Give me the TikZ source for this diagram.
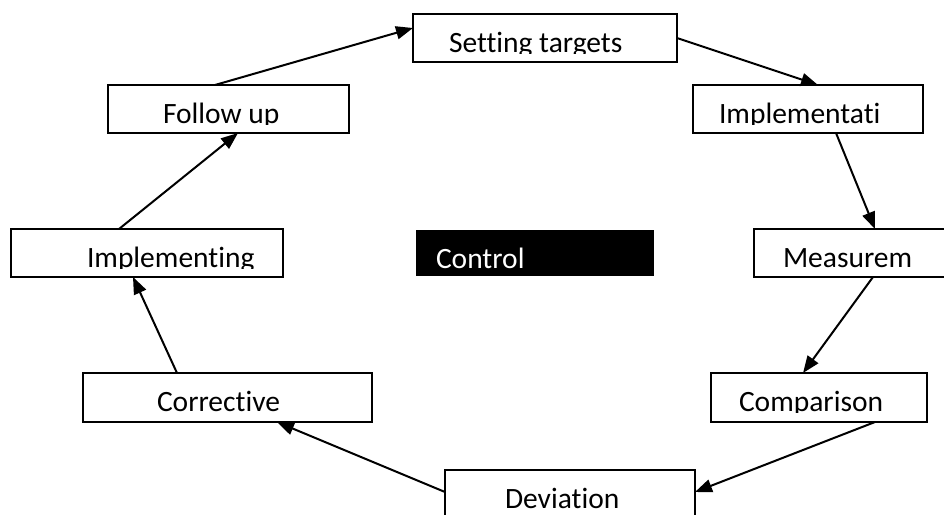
\documentclass[tikz,border=0pt]{standalone}
\usepackage{fontspec}
\setmainfont[Ligatures=NoCommon]{Carlito}
\usetikzlibrary{arrows.meta}
\newcommand\boxfont{\fontsize{29.5}{34}\selectfont}
\tikzset{
  wbox/.style={draw, line width=2pt, fill=white, inner sep=0pt, outer sep=0pt, anchor=north west},
  conn/.style={line width=2pt, -{Triangle[length=17pt,width=13pt]}},
  intext/.style={anchor=base west, inner sep=0pt, outer sep=0pt, minimum width=0pt, minimum height=0pt, draw=none, fill=none, font=\boxfont},
  cliptext/.style 2 args={path picture={
      \clip (path picture bounding box.north west) rectangle ([yshift=-39pt]path picture bounding box.north east);
      \node[intext] at ([xshift=#1pt, yshift=-38pt]path picture bounding box.north west) {#2};
  }},
  darktext/.style 2 args={path picture={
      \node[intext, text=white] at ([xshift=#1pt, yshift=-38pt]path picture bounding box.north west) {#2};
  }}
}
\begin{document}
\begin{tikzpicture}[x=1pt, y=-1pt]
\clip (0,0) rectangle (944,514);
\fill[white] (0,0) rectangle (944,514);
\node[wbox, minimum width=264pt, minimum height=48pt, cliptext={36}{Setting targets}] (st) at (413,14) {};
\node[wbox, minimum width=241pt, minimum height=48pt, cliptext={55}{Follow up}] (fu) at (108,85) {};
\node[wbox, minimum width=230pt, minimum height=48pt, cliptext={26}{Implementati}] (im) at (693,85) {};
\node[wbox, minimum width=272pt, minimum height=48pt, cliptext={76}{Implementing}] (ig) at (11,229) {};
\node[wbox, minimum width=210pt, minimum height=48pt, cliptext={29}{Measurem}] (me) at (754,229) {};
\node[wbox, minimum width=289pt, minimum height=49pt, cliptext={74}{Corrective}] (cr) at (83,373) {};
\node[wbox, minimum width=216pt, minimum height=49pt, cliptext={28}{Comparison}] (co) at (711,373) {};
\node[wbox, minimum width=250pt, minimum height=48pt, cliptext={60}{Deviation}] (dv) at (445,470) {};
\node[fill=black, anchor=north west, inner sep=0pt, outer sep=0pt,
      minimum width=238pt, minimum height=46pt, darktext={20}{Control}] (ctl) at (416,230) {};
\draw[conn] ([xshift=107pt]fu.north west) -- ([yshift=-14pt]st.north west);
\draw[conn] ([yshift=-24pt]st.north east) -- ([xshift=125pt]im.north west);
\draw[conn] ([xshift=143pt]im.south west) -- ([xshift=121pt]me.north west);
\draw[conn] ([xshift=119pt]me.south west) -- ([xshift=92pt]co.north west);
\draw[conn] ([xshift=164pt]co.south west) -- ([yshift=-22pt]dv.north east);
\draw[conn] ([yshift=-22pt]dv.north west) -- ([xshift=194pt]cr.south west);
\draw[conn] ([xshift=94pt]cr.north west) -- ([xshift=122pt]ig.south west);
\draw[conn] ([xshift=108pt]ig.north west) -- ([xshift=130pt]fu.south west);
\end{tikzpicture}
\end{document}
